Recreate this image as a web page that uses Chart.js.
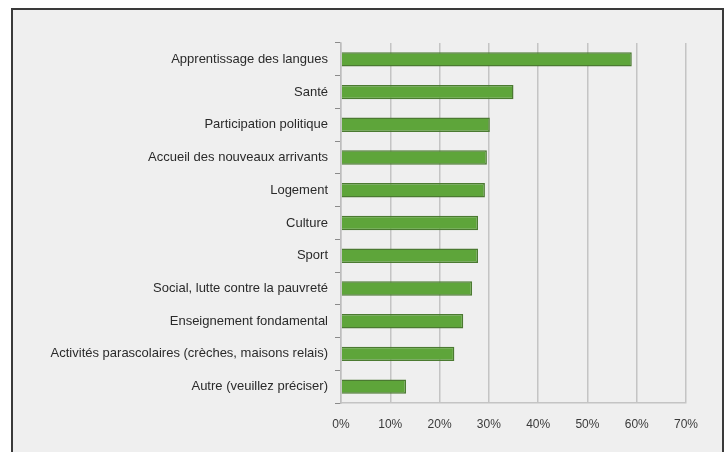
<!DOCTYPE html>
<html>
<head>
<meta charset="utf-8">
<script src="https://cdn.jsdelivr.net/npm/chart.js@4/dist/chart.umd.min.js"></script>
<style>
  html, body { margin: 0; padding: 0; background: #ffffff; }
  #wrap { position: relative; width: 728px; height: 452px; overflow: hidden; }
  #frame {
    position: absolute; left: 11px; top: 8px; width: 709px; height: 460px;
    background: #efefef; border: 2px solid #3a3a3a; border-bottom: none;
  }
  canvas { position: absolute; left: 0; top: 0; }
</style>
</head>
<body>
<div id="wrap">
  <div id="frame"></div>
  <canvas id="chart" width="728" height="452"></canvas>
</div>
<script>
// domaines et pourcentages
const domaines = [
  "Apprentissage des langues",
  "Santé",
  "Participation politique",
  "Accueil des nouveaux arrivants",
  "Logement",
  "Culture",
  "Sport",
  "Social, lutte contre la pauvreté",
  "Enseignement fondamental",
  "Activités parascolaires (crèches, maisons relais)",
  "Autre (veuillez préciser)"
];
const pourcentages = [59, 35, 30.2, 29.6, 29.2, 27.8, 27.8, 26.6, 24.8, 23, 13.2];
const xTicks = [0, 10, 20, 30, 40, 50, 60, 70];

let ctx = document.getElementById('chart').getContext('2d');

let chart = new Chart(ctx, {
  type: 'bar',
  data: {
    labels: domaines,
    datasets: [{
      data: pourcentages,
      backgroundColor: '#5ea53a',
      borderColor: '#4b7a31',
      borderWidth: 1.5,
      categoryPercentage: 0.44,
      barPercentage: 1
    }]
  },
  options: {
    indexAxis: 'y',
    responsive: false,
    animation: false,
    layout: { padding: { top: 43, right: 42, bottom: 0, left: 0 } },
    plugins: { legend: { display: false }, tooltip: { enabled: false } },
    scales: {
      x: {
        min: 0,
        max: 70,
        afterBuildTicks: (axis) => { axis.ticks = xTicks.map(v => ({ value: v })); },
        afterFit: (axis) => { axis.height = 49; },
        grid: { color: '#c4c4c4', lineWidth: 1.5, drawTicks: false },
        border: { color: '#c4c4c4', width: 1.5 },
        ticks: {
          padding: 14,
          color: '#3a3a3a',
          font: { family: 'Liberation Sans', size: 12 },
          callback: (v) => v + '%'
        }
      },
      y: {
        afterFit: (axis) => { axis.width = 341; },
        grid: { drawOnChartArea: false, drawTicks: true, tickLength: 6, color: '#8a8a8a' },
        border: { color: '#bdbdbd', width: 1.5 },
        ticks: {
          padding: 7,
          color: '#2a2a2a',
          font: { family: 'Liberation Sans', size: 13 }
        }
      }
    }
  }
});
</script>
</body>
</html>
